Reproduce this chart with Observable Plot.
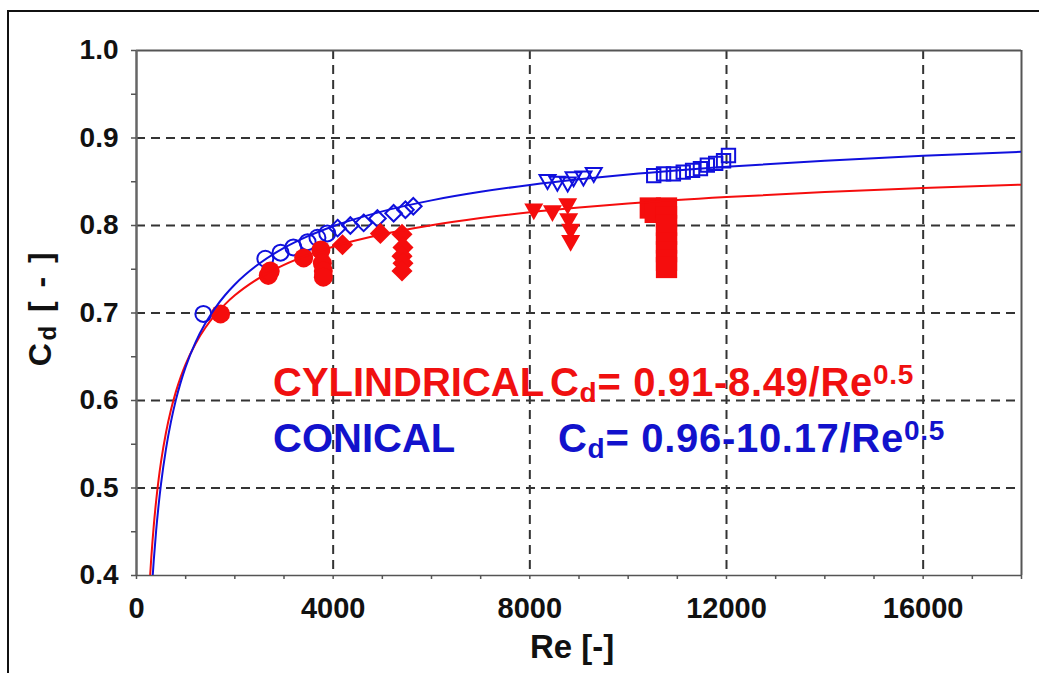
<!DOCTYPE html>
<html><head><meta charset="utf-8">
<script src="https://cdn.jsdelivr.net/npm/d3@7"></script>
<script src="https://cdn.jsdelivr.net/npm/@observablehq/plot@0.6"></script>
<style>
html,body{margin:0;padding:0;background:#fff;overflow:hidden;}
#wrap{position:relative;width:1039px;height:673px;overflow:hidden;font-family:"Liberation Sans",Arial,Helvetica,sans-serif;font-weight:bold;}
#border{position:absolute;left:7px;top:10px;width:1100px;height:700px;border-left:2px solid #111;border-top:2px solid #111;}
#chart{position:absolute;left:0;top:0;}
.ann{position:absolute;font-size:40px;line-height:40px;white-space:nowrap;}
.eq{letter-spacing:0.7px;}
.ann sub{font-size:70%;vertical-align:-0.22em;line-height:0;}
.ann sup{font-size:70%;vertical-align:0.42em;line-height:0;}
.red{color:#f01010;}
.blue{color:#1212cc;}
#xtitle{position:absolute;left:530px;top:630px;font-size:33px;line-height:33px;color:#111;white-space:nowrap;}
#ytitle{position:absolute;left:-45px;top:292px;width:170px;text-align:center;font-size:32px;line-height:32px;letter-spacing:2.5px;color:#111;transform:rotate(-90deg);white-space:nowrap;}
#ytitle sub{font-size:75%;vertical-align:-0.2em;line-height:0;}
</style>
</head><body>
<div id="wrap">
  <div id="border"></div>
  <div id="chart"></div>
  <div class="ann red" style="left:273px;top:362px;">CYLINDRICAL</div>
  <div class="ann red eq" style="left:550px;top:362px;">C<sub>d</sub>= 0.91-8.49/Re<sup>0.5</sup></div>
  <div class="ann blue" style="left:273px;top:418px;">CONICAL</div>
  <div class="ann blue eq" style="left:558px;top:418px;">C<sub>d</sub>= 0.96-10.17/Re<sup>0.5</sup></div>
  <div id="xtitle">Re [-]</div>
  <div id="ytitle">C<sub>d</sub> [ - ]</div>
</div>
<script>
// ---- data ----
const xTicks = [0, 4000, 8000, 12000, 16000];
const xMinorTicks = [0, 1000, 2000, 3000, 4000, 5000, 6000, 7000, 8000, 9000, 10000, 11000, 12000, 13000, 14000, 15000, 16000, 17000, 18000];
const yTicks = [0.4, 0.5, 0.6, 0.7, 0.8, 0.9, 1.0];
const yMinorTicks = [0.4, 0.45, 0.5, 0.55, 0.6, 0.65, 0.7, 0.75, 0.8, 0.85, 0.9, 0.95, 1.0];
const xGrid = [4000, 8000, 12000, 16000];
const yGrid = [0.5, 0.6, 0.7, 0.8, 0.9];

// fitted correlations shown on the chart: Cd = a - b / Re^0.5
const cylFit = {a: 0.91, b: 8.49};
const conFit = {a: 0.96, b: 10.17};
const curveRe = [250, 275, 300, 325, 350, 400, 450, 500, 600, 700, 800, 900, 1000, 1200, 1400, 1600, 1800, 2000, 2500, 3000, 3500, 4000, 5000, 6000, 7000, 8000, 9000, 10000, 12000, 14000, 16000, 18000];

// conical (open blue markers)
const conCircRe = [1360, 2620, 2930, 3190, 3480, 3680, 3880];
const conCircCd = [0.699, 0.762, 0.769, 0.775, 0.781, 0.786, 0.791];
const conDiaRe = [4090, 4350, 4620, 4900, 5230, 5470, 5630];
const conDiaCd = [0.797, 0.800, 0.803, 0.808, 0.814, 0.818, 0.822];
const conTriRe = [8360, 8560, 8770, 8890, 9090, 9300];
const conTriCd = [0.851, 0.849, 0.848, 0.854, 0.855, 0.859];
const conSqRe = [10520, 10720, 10920, 11120, 11310, 11470, 11610, 11780, 11940, 12040];
const conSqCd = [0.857, 0.859, 0.859, 0.861, 0.863, 0.865, 0.869, 0.871, 0.874, 0.880];

// cylindrical (filled red markers)
const cylCircRe = [1710, 2680, 2720, 3400, 3750, 3780, 3800, 3800];
const cylCircCd = [0.699, 0.743, 0.748, 0.763, 0.772, 0.757, 0.748, 0.741];
const cylDiaRe = [4190, 4960, 5400, 5420, 5400, 5420, 5400];
const cylDiaCd = [0.778, 0.791, 0.790, 0.775, 0.765, 0.757, 0.748];
const cylTriRe = [8080, 8460, 8770, 8790, 8830, 8830];
const cylTriCd = [0.817, 0.815, 0.823, 0.806, 0.794, 0.781];
const cylSqRe = [10450, 10550, 10780, 10780, 10780, 10780, 10780, 10780, 10780, 10780];
const cylSqCd = [0.820, 0.815, 0.820, 0.810, 0.800, 0.790, 0.780, 0.770, 0.760, 0.752];

// ---- build ----
const zip = (xs, ys) => xs.map((x, i) => ({x, y: ys[i]}));
const fitLine = f => curveRe.map(re => ({x: re, y: f.a - f.b / Math.sqrt(re)}));
const invTri = {
  draw(ctx, size) {
    const r = Math.sqrt(size / Math.PI);
    ctx.moveTo(-r, -0.75 * r);
    ctx.lineTo(r, -0.75 * r);
    ctx.lineTo(0, r);
    ctx.closePath();
  }
};
const RED = "#f50d0d", BLUE = "#1010dd";
const font = {fontSize: 28, fontWeight: "bold", fill: "#111"};

const plot = Plot.plot({
  width: 1039, height: 673,
  marginLeft: 136, marginRight: 18, marginTop: 50, marginBottom: 98,
  style: {fontFamily: "'Liberation Sans', Arial, sans-serif", fontSize: "28px", background: "transparent"},
  x: {domain: [0, 18000], label: null},
  y: {domain: [0.4, 1.0], label: null},
  marks: [
    Plot.ruleY(yGrid, {stroke: "#333", strokeWidth: 2, strokeDasharray: "9,6"}),
    Plot.ruleX(xGrid, {stroke: "#333", strokeWidth: 2, strokeDasharray: "9,6"}),
    Plot.ruleY([1.0], {stroke: "#555", strokeWidth: 2}),
    Plot.ruleX([18000], {stroke: "#555", strokeWidth: 2}),
    Plot.ruleX([0], {stroke: "#666", strokeWidth: 2.5}),
    Plot.ruleY([0.4], {stroke: "#555", strokeWidth: 1.5}),
    Plot.axisY(yMinorTicks, {tickSize: 5, text: null, label: null, stroke: "#555", strokeWidth: 1.5}),
    Plot.axisY(yTicks, {tickSize: 0, tickPadding: 18, tickFormat: d => d.toFixed(1), ...font, label: null}),
    Plot.axisX(xMinorTicks, {tickSize: 4, text: null, label: null, stroke: "#555", strokeWidth: 1.5}),
    Plot.axisX(xTicks, {tickSize: 0, tickPadding: 22, tickFormat: d => String(d), ...font, fontSize: 29, label: null}),
    // conical markers (open)
    Plot.dot(zip(conCircRe, conCircCd), {x: "x", y: "y", symbol: "circle", r: 8, stroke: BLUE, strokeWidth: 2, fill: "none"}),
    Plot.dot(zip(conDiaRe, conDiaCd), {x: "x", y: "y", symbol: "diamond2", r: 7.5, stroke: BLUE, strokeWidth: 2, fill: "none"}),
    Plot.dot(zip(conTriRe, conTriCd), {x: "x", y: "y", symbol: invTri, r: 8, stroke: BLUE, strokeWidth: 2, fill: "none"}),
    Plot.dot(zip(conSqRe, conSqCd), {x: "x", y: "y", symbol: "square2", r: 8.5, stroke: BLUE, strokeWidth: 2, fill: "none"}),
    // cylindrical markers (filled)
    Plot.dot(zip(cylCircRe, cylCircCd), {x: "x", y: "y", symbol: "circle", r: 9.5, fill: RED, stroke: "none"}),
    Plot.dot(zip(cylDiaRe, cylDiaCd), {x: "x", y: "y", symbol: "diamond2", r: 9.5, fill: RED, stroke: "none"}),
    Plot.dot(zip(cylTriRe, cylTriCd), {x: "x", y: "y", symbol: invTri, r: 9.5, fill: RED, stroke: "none"}),
    Plot.dot(zip(cylSqRe, cylSqCd), {x: "x", y: "y", symbol: "square", r: 12, fill: RED, stroke: "none"}),
    // fit curves
    Plot.line(fitLine(cylFit), {x: "x", y: "y", stroke: RED, strokeWidth: 2, curve: "monotone-x", clip: true}),
    Plot.line(fitLine(conFit), {x: "x", y: "y", stroke: BLUE, strokeWidth: 2, curve: "monotone-x", clip: true})
  ]
});
document.getElementById("chart").appendChild(plot);
</script>
</body></html>
